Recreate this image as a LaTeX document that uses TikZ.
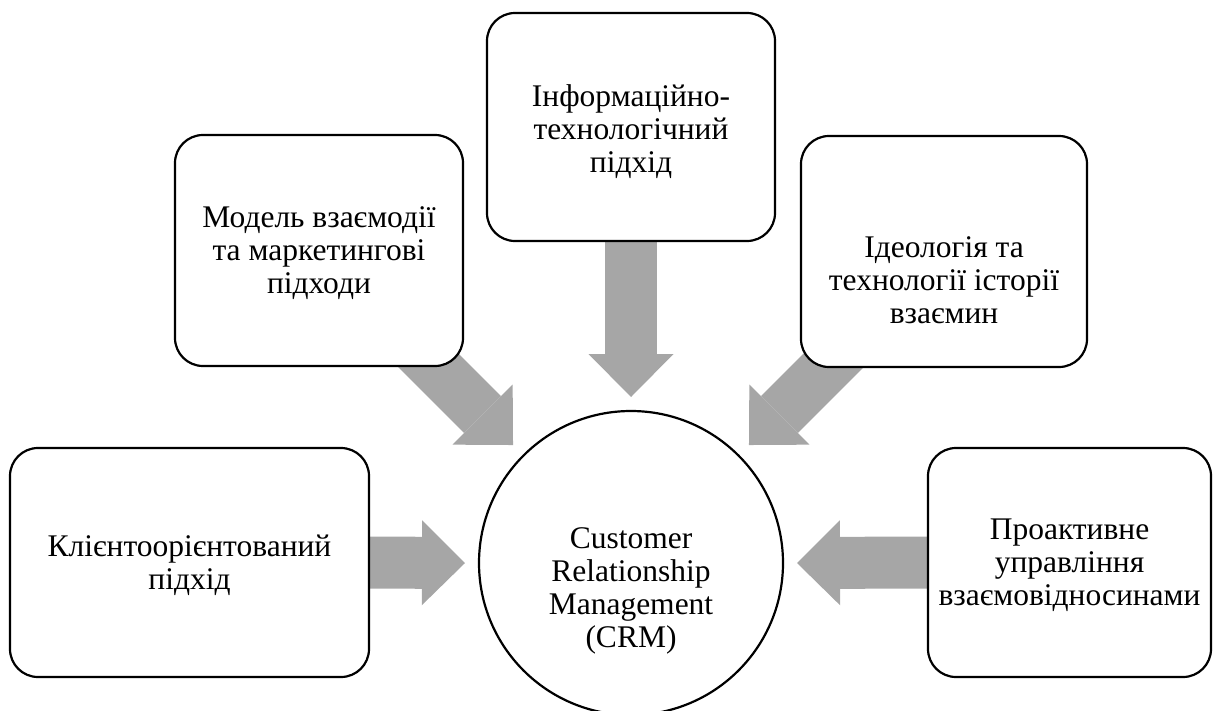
\documentclass[tikz,border=0pt]{standalone}
\usepackage{fontspec}
\setmainfont{Liberation Serif}
\usetikzlibrary{arrows.meta,backgrounds}
\definecolor{flowgray}{HTML}{A6A6A6}
\begin{document}
\begin{tikzpicture}[x=1pt,y=-1pt,
    box/.style={draw,line width=2.2pt,fill=white,rounded corners=28pt,inner sep=0pt,outer sep=0pt,
      align=center,font=\fontsize{31.5}{33}\selectfont},
    hub/.style={draw,circle,line width=2.2pt,fill=white,inner sep=0pt,outer sep=0pt,minimum size=304pt,
      align=center,font=\fontsize{31.5}{33}\selectfont},
    flow/.style={line width=52pt,flowgray,-{Triangle[length=43pt,width=85pt,line width=0pt]}}]
  \useasboundingbox (0,0) rectangle (1213,710);
  \node[box,minimum width=359pt,minimum height=229pt] (klient) at (189.5,562.5) {\rule{0pt}{27pt}Клієнтоорієнтований\\підхід};
  \node[box,minimum width=288pt,minimum height=231pt] (model) at (319,250.5) {\rule{0pt}{27pt}Модель взаємодії\\та маркетингові\\підходи};
  \node[box,minimum width=288pt,minimum height=228pt] (inform) at (631,127) {\rule{0pt}{31pt}Інформаційно-\\технологічний\\підхід};
  \node[box,minimum width=286pt,minimum height=231pt] (ideol) at (944,251.5) {\rule{0pt}{78pt}Ідеологія та\\технології історії\\взаємин};
  \node[box,minimum width=283pt,minimum height=229pt] (proakt) at (1069.5,562.5) {\rule{0pt}{26pt}Проактивне\\управління\\взаємовідносинами};
  \node[hub] (crm) at (631,563) {\rule{0pt}{76pt}Customer\\Relationship\\Management\\(CRM)};
  \begin{scope}[on background layer]
    \draw[flow] (klient.east) -- ([xshift=-14pt]crm.west);
    \draw[flow] (proakt.west) -- ([xshift=14pt]crm.east);
    \draw[flow] (inform.south) -- ([yshift=14pt]crm.north);
    \draw[flow] ([shift={(-63,-34)}]model.south east) -- ([shift={(-10.5,-10.5)}]crm.north west);
    \draw[flow] ([shift={(61,-35)}]ideol.south west) -- ([shift={(10.5,-10.5)}]crm.north east);
  \end{scope}
\end{tikzpicture}
\end{document}
